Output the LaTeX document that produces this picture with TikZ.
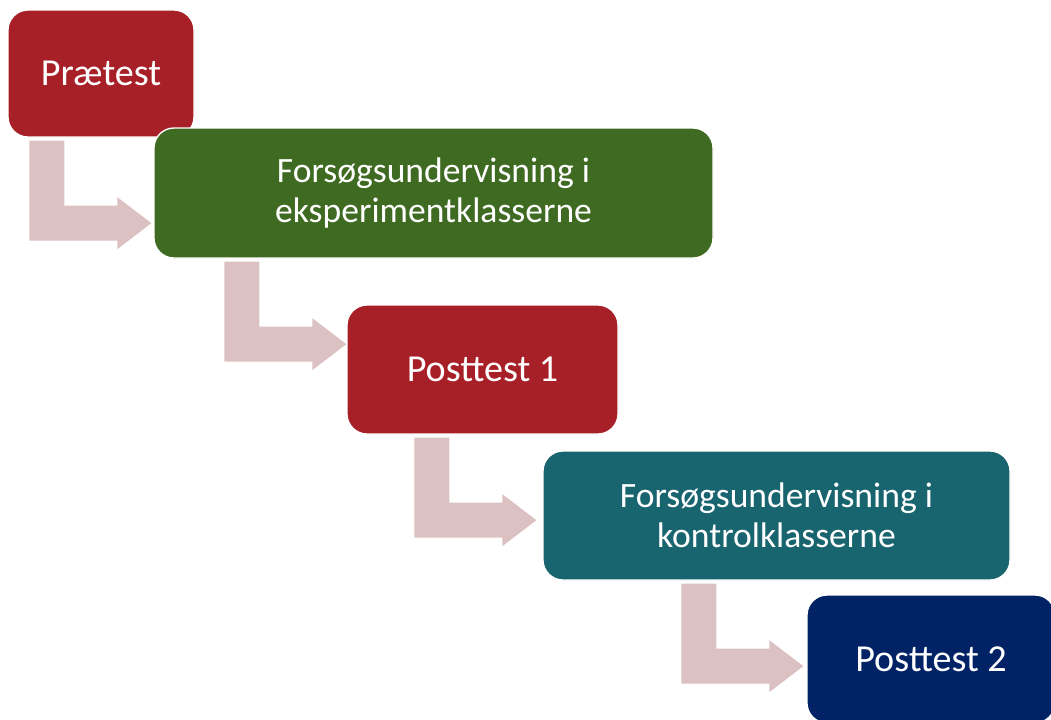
\documentclass[tikz,border=0pt]{standalone}
\usepackage{fontspec}
\setmainfont{Carlito}
\usetikzlibrary{calc}

\definecolor{praered}{RGB}{167,32,39}
\definecolor{forsoeggreen}{RGB}{63,106,33}
\definecolor{kontrolteal}{RGB}{24,100,111}
\definecolor{postnavy}{RGB}{1,34,100}
\definecolor{arrowpink}{RGB}{219,193,194}

\tikzset{every picture/.style={line width=0.75pt}}
\tikzset{
  stepbox/.style={draw=white, line width=1pt, rounded corners=15pt, inner sep=0pt,
    text=white, align=center, font=\fontsize{28.6}{34}\selectfont},
  twoline/.style={font=\fontsize{26.7}{30}\selectfont},
  steparrow/.style={fill=arrowpink, draw=none}
}
% bent block arrow from the box above down and into the next box (#3 = gap before the box)
\newcommand{\bentarrow}[3]{%
  \fill[steparrow] ($(#2.west |- #1.south)+(-122-#3,3)$) -- ++(35,0) -- ++(0,65) -- ++(53,0)
    -- ++(0,-8.5) -- ++(34,26) -- ++(-34,26) -- ++(0,-8.5) -- ++(-88,0) -- cycle ;}

\begin{document}
\begin{tikzpicture}[x=0.75pt,y=0.75pt,yscale=-1,xscale=1]
    \useasboundingbox (0,0) rectangle (1051,719);
    \clip (0,0) rectangle (1051,719);

    % Boxes
    \node[stepbox, fill=praered, minimum width=139.5pt, minimum height=95.25pt] (prae) at (101,73.5) {Prætest};
    \node[stepbox, twoline, fill=forsoeggreen, minimum width=419.25pt, minimum height=97.5pt] (eksp) at (433.5,193) {Forsøgsundervisning i\\eksperimentklasserne};
    \node[stepbox, fill=praered, minimum width=203.25pt, minimum height=96.75pt] (postA) at (482.5,369.5) {Posttest 1};
    \node[stepbox, twoline, fill=kontrolteal, minimum width=350.25pt, minimum height=96.75pt] (kontrol) at (776.5,515.5) {Forsøgsundervisning i\\kontrolklasserne};
    \node[stepbox, fill=postnavy, minimum width=186pt, minimum height=96pt] (postB) at (931,659) {Posttest 2};

    % Arrows
    \bentarrow{prae}{eksp}{2}
    \bentarrow{eksp}{postA}{0}
    \bentarrow{postA}{kontrol}{6}
    \bentarrow{kontrol}{postB}{3}

\end{tikzpicture}
\end{document}
